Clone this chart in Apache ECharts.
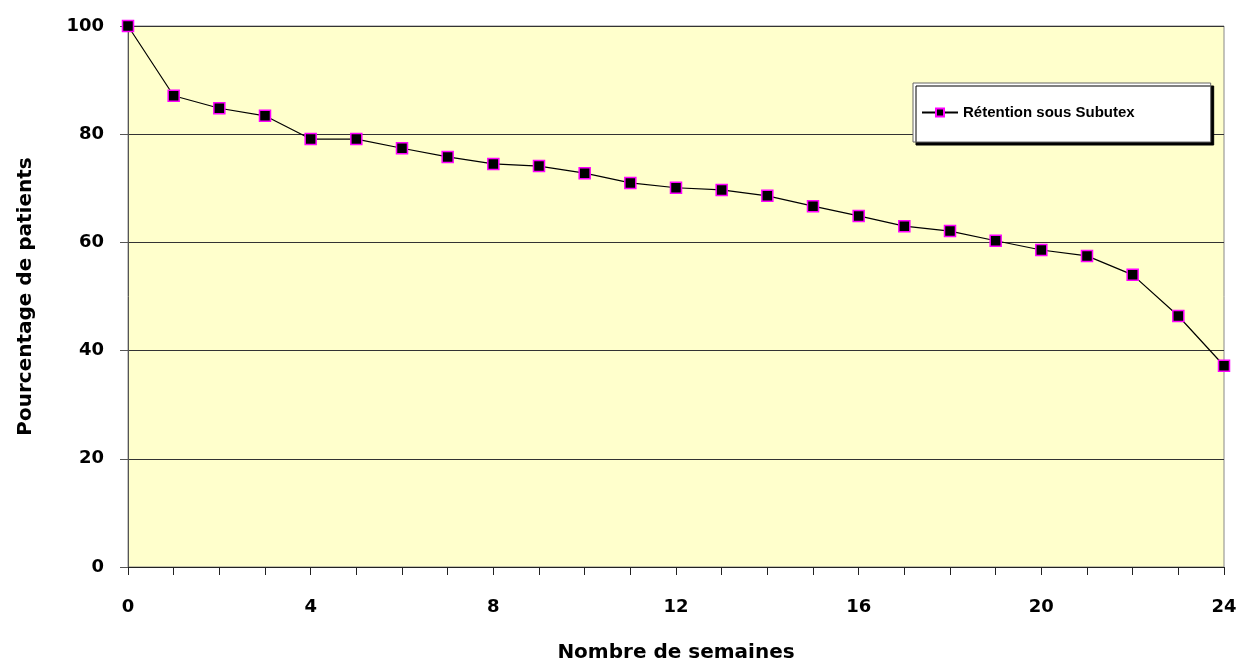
<!DOCTYPE html>
<html>
<head>
<meta charset="utf-8">
<script src="https://cdn.jsdelivr.net/npm/echarts@6/dist/echarts.min.js"></script>
<style>
  html, body { margin: 0; padding: 0; background: #fff; }
  #main { width: 1245px; height: 662px; }
</style>
</head>
<body>
<div id="main"></div>
<script>
const weeks = ["0", "1", "2", "3", "4", "5", "6", "7", "8", "9", "10", "11", "12",
	"13", "14", "15", "16", "17", "18", "19", "20", "21", "22", "23", "24"];
const retention = [100, 87.1, 84.8, 83.4, 79.1, 79.1, 77.4, 75.8, 74.5, 74.1, 72.8, 71.0, 70.1,
	69.7, 68.6, 66.7, 64.9, 63.0, 62.1, 60.3, 58.6, 57.5, 54.0, 46.4, 37.2];
const seriesName = "Rétention sous Subutex";

const chart = echarts.init(document.getElementById("main"), null, { renderer: "canvas" });

const labelFont = {
	fontFamily: "DejaVu Sans",
	fontWeight: "bold",
	fontSize: 18,
	color: "#000",
};

const option = {
	animation: false,
	backgroundColor: "#fff",
	grid: {
		left: 128,
		top: 26,
		right: 21,
		bottom: 95,
		outerBoundsMode: "none",
		containLabel: false,
		show: true,
		backgroundColor: "#FFFFCC",
		borderColor: "#888",
		borderWidth: 1,
	},
	legend: {
		data: [seriesName],
		left: 913,
		top: 83,
		padding: [22, 76, 22, 8],
		backgroundColor: "#fff",
		borderColor: "#666",
		borderWidth: 1,
		shadowColor: "#000",
		shadowOffsetX: 3,
		shadowOffsetY: 3,
		shadowBlur: 0,
		itemWidth: 36,
		itemHeight: 10,
		itemGap: 4,
		textStyle: {
			fontFamily: "Liberation Sans",
			fontWeight: "bold",
			fontSize: 15,
			color: "#000",
		},
	},
	xAxis: {
		type: "category",
		data: weeks,
		boundaryGap: false,
		name: "Nombre de semaines",
		nameLocation: "middle",
		nameGap: 76,
		nameTextStyle: Object.assign({}, labelFont, { fontSize: 20 }),
		axisLine: { show: true, lineStyle: { color: "#222", width: 1 } },
		axisTick: { show: true, interval: 0, length: 8, lineStyle: { color: "#222" } },
		axisLabel: Object.assign({ interval: 3, margin: 31 }, labelFont),
		splitLine: { show: false },
	},
	yAxis: {
		type: "value",
		min: 0,
		max: 100,
		interval: 20,
		name: "Pourcentage de patients",
		nameLocation: "middle",
		nameGap: 92,
		nameTextStyle: Object.assign({}, labelFont, { fontSize: 20 }),
		axisLine: { show: true, lineStyle: { color: "#555", width: 1 } },
		axisTick: { show: true, length: 8, lineStyle: { color: "#555" } },
		axisLabel: Object.assign({ margin: 24 }, labelFont),
		splitLine: { show: true, lineStyle: { color: "#333", width: 1 } },
	},
	series: [
		{
			name: seriesName,
			type: "line",
			data: retention,
			symbol: "rect",
			symbolSize: 11,
			itemStyle: { color: "#000", borderColor: "#FF00FF", borderWidth: 1.5 },
			lineStyle: { color: "#000", width: 1.2 },
			z: 5,
		},
	],
};

chart.setOption(option, true);
</script>
</body>
</html>
